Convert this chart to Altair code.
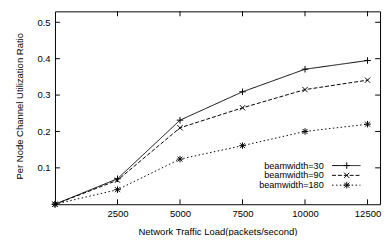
import altair as alt
import pandas as pd

loads = [0, 2500, 5000, 7500, 10000, 12500]
series_names = ["beamwidth=30", "beamwidth=90", "beamwidth=180"]
bw30 = [0.0, 0.070, 0.231, 0.309, 0.371, 0.395]
bw90 = [0.0, 0.066, 0.210, 0.265, 0.315, 0.341]
bw180 = [0.0, 0.040, 0.124, 0.161, 0.200, 0.220]
x_ticks = [2500, 5000, 7500, 10000, 12500]
y_ticks = [0.1, 0.2, 0.3, 0.4, 0.5]

rows = []
for name, vals in zip(series_names, [bw30, bw90, bw180]):
    for x, v in zip(loads, vals):
        rows.append({"load": x, "ratio": v, "series": name})
df = pd.DataFrame(rows)

W, H = 332, 197
FONT = "Liberation Sans"
FS = 9.7
LFS = 9.3
XDOM = [0, 13000]
YDOM = [0, 0.53]

plus_path = "M-1,0L1,0M0,-1L0,1"
x_path = "M-0.8,-0.8L0.8,0.8M-0.8,0.8L0.8,-0.8"
star_path = "M-1,0L1,0M0,-1L0,1M-0.75,-0.75L0.75,0.75M-0.75,0.75L0.75,-0.75"
shapes = [plus_path, x_path, star_path]
dashes = [[1, 0], [4, 2], [1.5, 2.5]]

xscale = alt.Scale(domain=XDOM, nice=False, zero=False)
yscale = alt.Scale(domain=YDOM, nice=False, zero=False)

base = alt.Chart(df)

lines = base.mark_line(color="black", strokeWidth=1).encode(
    x=alt.X("load:Q", scale=xscale,
            axis=alt.Axis(values=x_ticks, format="d", ticks=False, domain=False, grid=False,
                          labelPadding=5, labelFontSize=FS, labelFont=FONT,
                          labelColor="black", title="Network Traffic Load(packets/second)",
                          titleFont=FONT, titleFontSize=FS, titleFontWeight="normal",
                          titleColor="black", titleY=28, titleBaseline="middle")),
    y=alt.Y("ratio:Q", scale=yscale,
            axis=alt.Axis(values=y_ticks, format=".1f", ticks=False, domain=False,
                          grid=False, labelPadding=5, labelFontSize=FS, labelFont=FONT,
                          labelColor="black", title="Per Node Channel Utilization Ratio",
                          titleFont=FONT, titleFontSize=FS, titleFontWeight="normal",
                          titleColor="black", titleX=-36, titleY=H / 2 - 2,
                          titleAngle=270, titleAlign="center", titleBaseline="middle")),
    strokeDash=alt.StrokeDash("series:N", scale=alt.Scale(domain=series_names, range=dashes),
                              legend=None),
    detail="series:N",
)

points = base.mark_point(filled=False, color="black", strokeWidth=1, size=45, opacity=1).encode(
    x=alt.X("load:Q", scale=xscale),
    y=alt.Y("ratio:Q", scale=yscale),
    shape=alt.Shape("series:N", scale=alt.Scale(domain=series_names, range=shapes), legend=None),
)

xt = pd.DataFrame({"t": x_ticks})
yt = pd.DataFrame({"t": y_ticks})
tick_layers = [
    alt.Chart(xt).mark_rule(color="black", strokeWidth=1).encode(
        x=alt.X("t:Q", scale=xscale), y=alt.value(H), y2=alt.value(H - 5)),
    alt.Chart(xt).mark_rule(color="black", strokeWidth=1).encode(
        x=alt.X("t:Q", scale=xscale), y=alt.value(0), y2=alt.value(5)),
    alt.Chart(yt).mark_rule(color="black", strokeWidth=1).encode(
        y=alt.Y("t:Q", scale=yscale), x=alt.value(0), x2=alt.value(5)),
    alt.Chart(yt).mark_rule(color="black", strokeWidth=1).encode(
        y=alt.Y("t:Q", scale=yscale), x=alt.value(W), x2=alt.value(W - 5)),
]

legend_layers = []
for i, name in enumerate(series_names):
    ld = pd.DataFrame({"series": [name]})
    ry = 157.5 + i * 10
    legend_layers.append(alt.Chart(ld).mark_text(
        align="right", baseline="middle", font=FONT, fontSize=LFS, color="black").encode(
        x=alt.value(274.5), y=alt.value(ry), text="series:N"))
    legend_layers.append(alt.Chart(ld).mark_rule(
        color="black", strokeWidth=1, strokeDash=dashes[i]).encode(
        x=alt.value(283), x2=alt.value(312), y=alt.value(ry)))
    legend_layers.append(alt.Chart(ld).mark_point(
        filled=False, color="black", strokeWidth=1, size=45, opacity=1, shape=shapes[i]).encode(
        x=alt.value(298), y=alt.value(ry)))

chart = alt.layer(lines, points, *tick_layers, *legend_layers).properties(
    width=W, height=H,
    background="white",
    autosize=alt.AutoSizeParams(type="none"),
    padding={"left": 48, "top": 1, "right": 2, "bottom": 30},
).configure_view(stroke="black", strokeWidth=1)

chart.save("out.html", embed_options={"renderer": "svg", "actions": False})
